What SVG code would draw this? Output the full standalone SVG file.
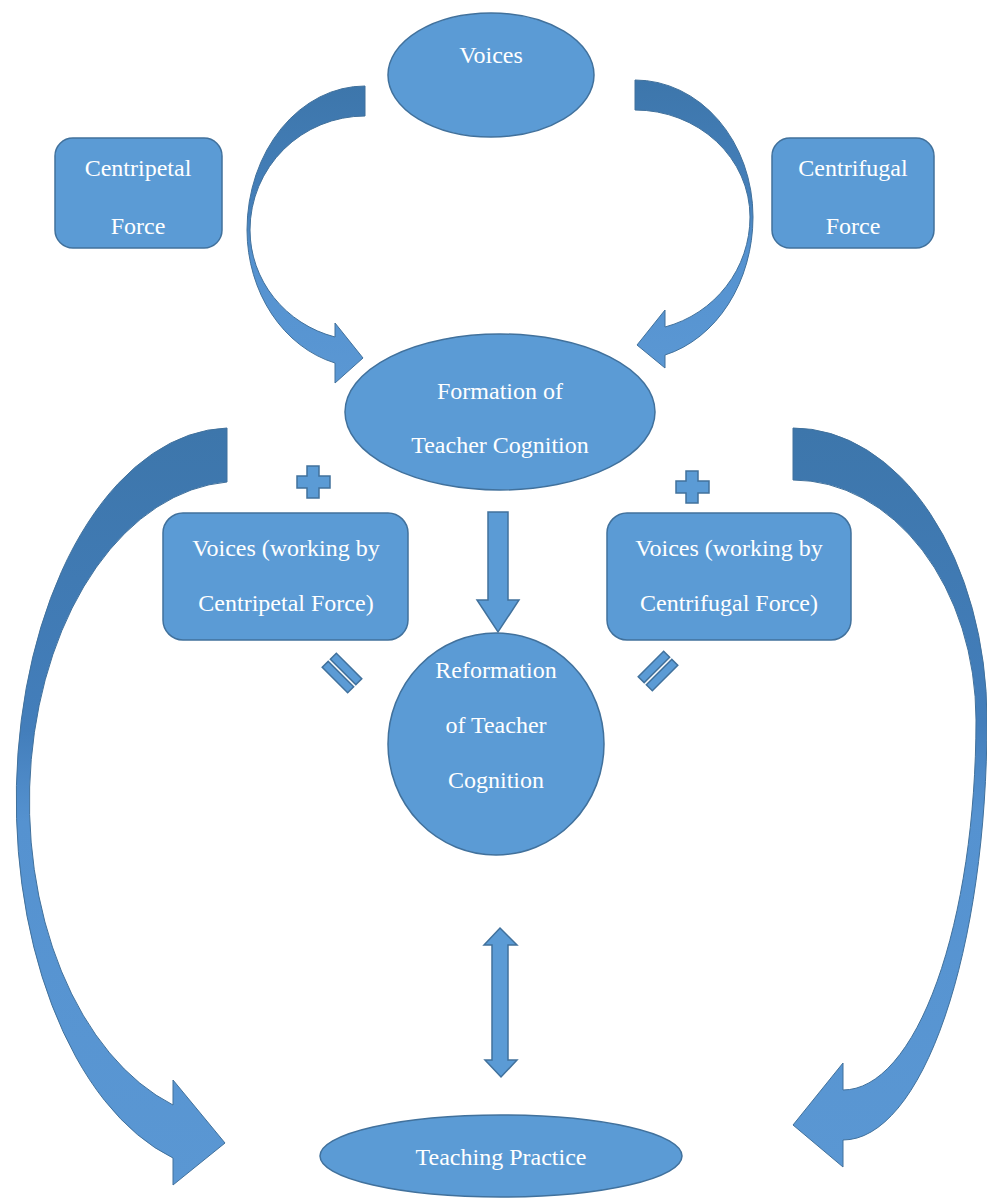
<svg xmlns="http://www.w3.org/2000/svg" width="987" height="1204" viewBox="0 0 987 1204">
<style>
.shape{fill:#5b9bd5;stroke:#41719c;stroke-width:1.5}
.lbl{font-family:'Liberation Serif','DejaVu Serif',serif;font-size:24px;fill:#ffffff;text-anchor:middle}
.arr{stroke:#41719c;stroke-width:1}
</style>
<defs>
<linearGradient id="gA1" gradientUnits="userSpaceOnUse" x1="0" y1="86" x2="0" y2="383">
<stop offset="0" stop-color="#3d76ab"/><stop offset="0.42" stop-color="#4580bb"/><stop offset="0.58" stop-color="#5592d0"/><stop offset="1" stop-color="#5a97d3"/>
</linearGradient>
<linearGradient id="gA2" gradientUnits="userSpaceOnUse" x1="0" y1="80" x2="0" y2="368">
<stop offset="0" stop-color="#3d76ab"/><stop offset="0.42" stop-color="#4580bb"/><stop offset="0.58" stop-color="#5592d0"/><stop offset="1" stop-color="#5a97d3"/>
</linearGradient>
<linearGradient id="gB1" gradientUnits="userSpaceOnUse" x1="0" y1="428" x2="0" y2="1185">
<stop offset="0" stop-color="#3d76ab"/><stop offset="0.4" stop-color="#437ebb"/><stop offset="0.52" stop-color="#5592d0"/><stop offset="1" stop-color="#5a97d3"/>
</linearGradient>
<linearGradient id="gB2" gradientUnits="userSpaceOnUse" x1="0" y1="428" x2="0" y2="1167">
<stop offset="0" stop-color="#3d76ab"/><stop offset="0.4" stop-color="#437ebb"/><stop offset="0.52" stop-color="#5592d0"/><stop offset="1" stop-color="#5a97d3"/>
</linearGradient>
</defs>
<rect width="987" height="1204" fill="#ffffff"/>

<g id="connectors">
<path id="arrow-voices-formation-left" class="arr" fill="url(#gA1)" d="M365,86 A118,144 0 0 0 247,230 A118,138 0 0 0 335,363 L335,383 L363,358 L335,323 L335,337 A115,111 0 0 1 250,230 A115,114 0 0 1 365,116 Z"/>
<path id="arrow-voices-formation-right" class="arr" fill="url(#gA2)" d="M635,80 A118,137 0 0 1 753,217 A118,143 0 0 1 665,355 L665,368 L637,345 L665,310 L665,327 A115,114 0 0 0 750,217 A115,107 0 0 0 635,110 Z"/>
<path id="arrow-formation-teaching-left" class="arr" fill="url(#gB1)" d="M227,428 A215,372 0 0 0 173,1158 L173,1185 L225,1143 L173,1080 L173,1105 A210,320 0 0 1 227,482 Z"/>
<path id="arrow-formation-teaching-right" class="arr" fill="url(#gB2)" d="M793,428 A194,292 0 0 1 987,720 A144,420 0 0 1 843,1140 L843,1167 L793,1125 L843,1063 L843,1090 A133,370 0 0 0 976,720 A183,240 0 0 0 793,480 Z"/>
<path id="arrow-formation-reformation" class="shape" d="M488,512 L508,512 L508,600 L519,600 L498,632 L477,600 L488,600 Z"/>
<path id="arrow-reformation-teaching" class="shape" d="M500,928 L517,945 L508,945 L508,1060 L517,1060 L501,1077 L485,1060 L492,1060 L492,945 L484,945 Z"/>
</g>

<g id="node-voices">
<ellipse class="shape" cx="491" cy="75" rx="103" ry="62"/>
<text class="lbl" x="491" y="63">Voices</text>
</g>

<g id="node-centripetal">
<rect class="shape" x="55" y="138" width="167" height="110" rx="18"/>
<text class="lbl" x="138" y="176">Centripetal</text>
<text class="lbl" x="138" y="234">Force</text>
</g>

<g id="node-centrifugal">
<rect class="shape" x="772" y="138" width="162" height="110" rx="18"/>
<text class="lbl" x="853" y="176">Centrifugal</text>
<text class="lbl" x="853" y="234">Force</text>
</g>

<g id="node-formation">
<ellipse class="shape" cx="500" cy="412" rx="155" ry="78"/>
<text class="lbl" x="500" y="399">Formation of</text>
<text class="lbl" x="500" y="453">Teacher Cognition</text>
</g>

<g id="node-voices-centripetal">
<rect class="shape" x="163" y="513" width="245" height="127" rx="20"/>
<text class="lbl" x="286" y="556">Voices (working by</text>
<text class="lbl" x="286" y="611">Centripetal Force)</text>
</g>

<g id="node-voices-centrifugal">
<rect class="shape" x="607" y="513" width="244" height="127" rx="20"/>
<text class="lbl" x="729" y="556">Voices (working by</text>
<text class="lbl" x="729" y="611">Centrifugal Force)</text>
</g>

<g id="node-reformation">
<ellipse class="shape" cx="496" cy="744" rx="108" ry="111"/>
<text class="lbl" x="496" y="678">Reformation</text>
<text class="lbl" x="496" y="733">of Teacher</text>
<text class="lbl" x="496" y="788">Cognition</text>
</g>

<g id="node-teaching">
<ellipse class="shape" cx="501" cy="1156" rx="181" ry="41"/>
<text class="lbl" x="501" y="1165">Teaching Practice</text>
</g>

<g id="plus-left">
<path class="shape" d="M307,466 L319,466 L319,476 L330,476 L330,488 L319,488 L319,498 L307,498 L307,488 L297,488 L297,476 L307,476 Z"/>
</g>
<g id="plus-right">
<path class="shape" d="M686,471 L698,471 L698,481 L709,481 L709,493 L698,493 L698,503 L686,503 L686,493 L676,493 L676,481 L686,481 Z"/>
</g>

<g id="equals-left" transform="translate(342,673) rotate(-45)">
<rect class="shape" x="-10" y="-18" width="8.5" height="36"/>
<rect class="shape" x="1.5" y="-18" width="8.5" height="36"/>
</g>
<g id="equals-right" transform="translate(658,671) rotate(45)">
<rect class="shape" x="-10" y="-18" width="8.5" height="36"/>
<rect class="shape" x="1.5" y="-18" width="8.5" height="36"/>
</g>
</svg>
